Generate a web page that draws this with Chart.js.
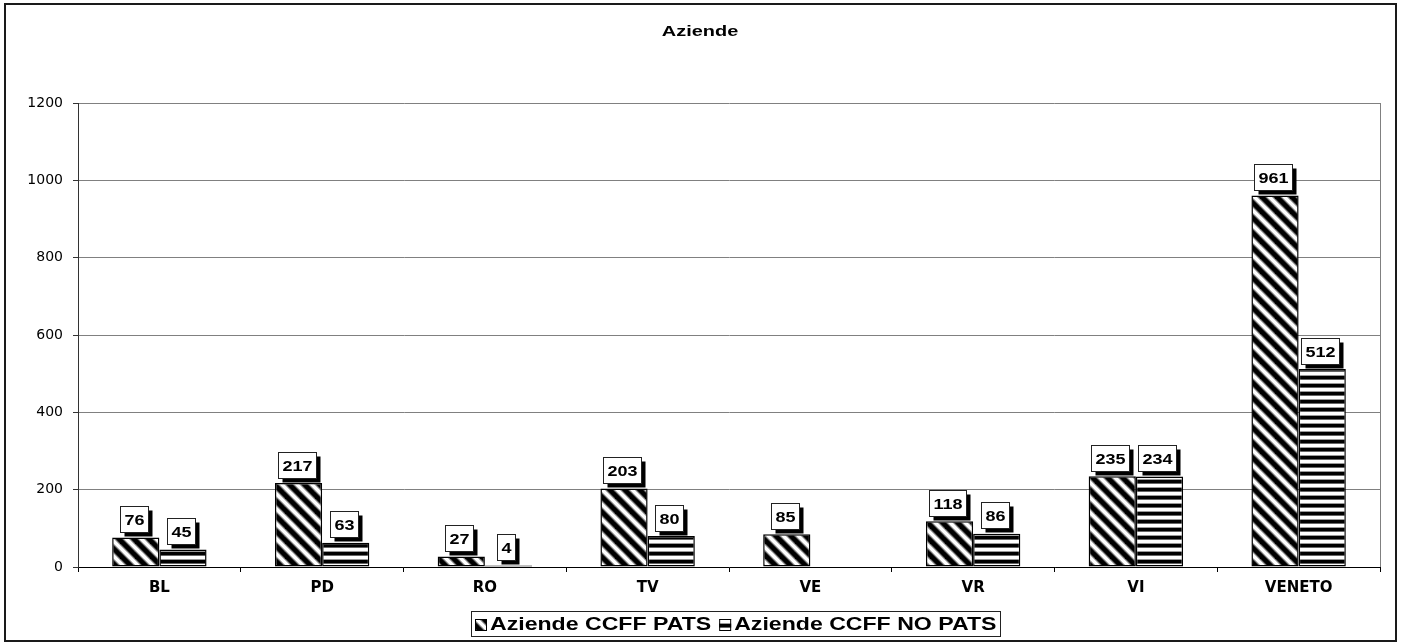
<!DOCTYPE html>
<html>
<head>
<meta charset="utf-8">
<script src="https://cdn.jsdelivr.net/npm/chart.js@4/dist/chart.umd.min.js"></script>
<style>
  html, body { margin: 0; padding: 0; background: #fff; overflow: hidden; }
  #wrap { position: relative; width: 1401px; height: 643px; }
</style>
</head>
<body>
<div id="wrap"><canvas id="c" width="1401" height="643"></canvas></div>
<script>
// Farms per province: with and without PATS
const categories = ['BL', 'PD', 'RO', 'TV', 'VE', 'VR', 'VI', 'VENETO'];
const seriesNames = ['Aziende CCFF PATS', 'Aziende CCFF NO PATS'];
const ccffPats = [76, 217, 27, 203, 85, 118, 235, 961];
const ccffNoPats = [45, 63, 4, 80, null, 86, 234, 512];
const yTicks = [0, 200, 400, 600, 800, 1000, 1200];
const chartTitle = 'Aziende';

// Hatch fills
function diagonalHatch() {
  const P = 15;
  const c = document.createElement('canvas');
  c.width = P; c.height = P;
  const g = c.getContext('2d');
  g.fillStyle = '#fff';
  g.fillRect(0, 0, P, P);
  g.lineCap = 'square';
  for (const pass of [{ w: 7, col: '#7a7a7a' }, { w: 4.6, col: '#000' }]) {
    g.strokeStyle = pass.col;
    g.lineWidth = pass.w;
    for (const off of [-P, 0, P]) {
      g.beginPath();
      g.moveTo(off - 2, -2);
      g.lineTo(off + P + 2, P + 2);
      g.stroke();
    }
  }
  return g.createPattern(c, 'repeat');
}
function horizontalHatch() {
  const c = document.createElement('canvas');
  c.width = 8; c.height = 8;
  const g = c.getContext('2d');
  const rows = ['#000', '#000', '#000', '#666', '#fff', '#fff', '#fff', '#999'];
  rows.forEach((col, i) => { g.fillStyle = col; g.fillRect(0, i, 8, 1); });
  return g.createPattern(c, 'repeat');
}
const fillPats = diagonalHatch();
const fillNoPats = horizontalHatch();

const LABEL_FONT = 'bold 15px "Liberation Sans", Arial, sans-serif';
const TITLE_FONT = 'bold 15px "Liberation Sans", Arial, sans-serif';
const LEGEND_FONT = 'bold 17.5px "Liberation Sans", Arial, sans-serif';

function stretchedText(ctx, text, x, y, sx, align) {
  const w = ctx.measureText(text).width * sx;
  let left = x;
  if (align === 'center') left = x - w / 2;
  else if (align === 'right') left = x - w;
  ctx.save();
  ctx.translate(left, y);
  ctx.scale(sx, 1);
  ctx.textAlign = 'left';
  ctx.fillText(text, 0, 0);
  ctx.restore();
  return w;
}

const chrome = {
  id: 'chrome',
  beforeDraw(chart) {
    const ctx = chart.ctx;
    ctx.save();
    ctx.fillStyle = '#fff';
    ctx.fillRect(0, 0, chart.width, chart.height);
    ctx.restore();
  },
  afterDatasetsDraw(chart) {
    const ctx = chart.ctx;
    ctx.save();
    ctx.font = LABEL_FONT;
    ctx.textBaseline = 'middle';
    const sx = 1.2;
    chart.data.datasets.forEach((ds, di) => {
      const meta = chart.getDatasetMeta(di);
      meta.data.forEach((bar, i) => {
        const v = ds.data[i];
        if (v === null || v === undefined) return;
        const text = String(v);
        const tw = ctx.measureText(text).width * sx;
        const bw = Math.round(tw + 8);
        const bh = 26;
        const left = Math.round(bar.x - (bw + 4) / 2) + 0.5;
        const top = Math.round(bar.y - 5.5 - bh) + 0.5;
        ctx.fillStyle = '#000';
        ctx.fillRect(left + 4, top + 4, bw, bh);
        ctx.fillStyle = '#fff';
        ctx.fillRect(left, top, bw, bh);
        ctx.strokeStyle = '#222';
        ctx.lineWidth = 1;
        ctx.strokeRect(left, top, bw, bh);
        ctx.fillStyle = '#000';
        stretchedText(ctx, text, left + bw / 2, top + bh / 2 + 1, sx, 'center');
      });
    });
    ctx.restore();
  },
  afterDraw(chart) {
    const ctx = chart.ctx;
    const a = chart.chartArea;
    ctx.save();
    // right edge of the plot area
    ctx.strokeStyle = '#808080';
    ctx.lineWidth = 1;
    ctx.beginPath();
    ctx.moveTo(Math.round(a.right) + 0.5, a.top);
    ctx.lineTo(Math.round(a.right) + 0.5, a.bottom);
    ctx.stroke();

    // title
    ctx.fillStyle = '#000';
    ctx.font = TITLE_FONT;
    ctx.textBaseline = 'middle';
    stretchedText(ctx, chartTitle, 700, 32, 1.33, 'center');

    // legend
    ctx.font = LEGEND_FONT;
    const sx = 1.32;
    const fills = [fillPats, fillNoPats];
    const icon = 12, gapIcon = 3, gapItem = 8, padX = 4;
    const widths = seriesNames.map(n => ctx.measureText(n).width * sx);
    let total = padX * 2;
    widths.forEach((w, i) => { total += icon + gapIcon + w + (i ? gapItem : 0); });
    const cy = 624.5;
    let x = Math.round(736 - total / 2);
    const boxLeft = x;
    x += padX;
    seriesNames.forEach((name, i) => {
      if (i) x += gapItem;
      const iy = Math.round(cy - icon / 2);
      ctx.fillStyle = fills[i];
      ctx.fillRect(x, iy, icon, icon);
      ctx.strokeStyle = '#000';
      ctx.lineWidth = 1;
      ctx.strokeRect(x + 0.5, iy + 0.5, icon - 1, icon - 1);
      x += icon + gapIcon;
      ctx.fillStyle = '#000';
      stretchedText(ctx, name, x, cy + 1, sx, 'left');
      x += widths[i];
    });
    ctx.strokeStyle = '#222';
    ctx.lineWidth = 1;
    ctx.strokeRect(boxLeft + 0.5, 611.5, Math.round(total), 25);

    // outer frame
    ctx.strokeStyle = '#1a1a1a';
    ctx.lineWidth = 2;
    ctx.strokeRect(5, 4, 1391, 637);
    ctx.restore();
  }
};

Chart.defaults.font.family = '"DejaVu Sans", sans-serif';
Chart.defaults.color = '#000';

new Chart(document.getElementById('c'), {
  type: 'bar',
  data: {
    labels: categories,
    datasets: [
      {
        label: seriesNames[0],
        data: ccffPats,
        backgroundColor: fillPats,
        borderColor: '#000',
        borderWidth: 1.5,
        borderSkipped: false,
        categoryPercentage: 0.58,
        barPercentage: 1.0
      },
      {
        label: seriesNames[1],
        data: ccffNoPats,
        backgroundColor: fillNoPats,
        borderColor: '#000',
        borderWidth: 1.5,
        borderSkipped: false,
        categoryPercentage: 0.58,
        barPercentage: 1.0
      }
    ]
  },
  options: {
    responsive: false,
    animation: false,
    devicePixelRatio: 1,
    layout: { padding: { left: 8, right: 21, top: 103, bottom: 36 } },
    plugins: {
      legend: { display: false },
      title: { display: false },
      tooltip: { enabled: false }
    },
    scales: {
      x: {
        grid: {
          display: true,
          drawOnChartArea: false,
          drawTicks: true,
          tickLength: 5,
          color: '#000',
          offset: true
        },
        border: { display: true, color: '#000', width: 1 },
        ticks: {
          font: { size: 15, weight: 'bold' },
          color: '#000',
          padding: 7,
          maxRotation: 0
        },
        afterFit(s) { s.height = 40; }
      },
      y: {
        min: 0,
        max: 1200,
        afterBuildTicks(s) { s.ticks = yTicks.map(v => ({ value: v })); },
        grid: {
          color: '#808080',
          lineWidth: 1,
          tickLength: 5,
          tickColor: '#333'
        },
        border: { display: true, color: '#333', width: 1 },
        ticks: {
          font: { size: 14 },
          color: '#000',
          padding: 10,
          callback: v => String(v)
        },
        afterFit(s) { s.width = 70; }
      }
    }
  },
  plugins: [chrome]
});
</script>
</body>
</html>
